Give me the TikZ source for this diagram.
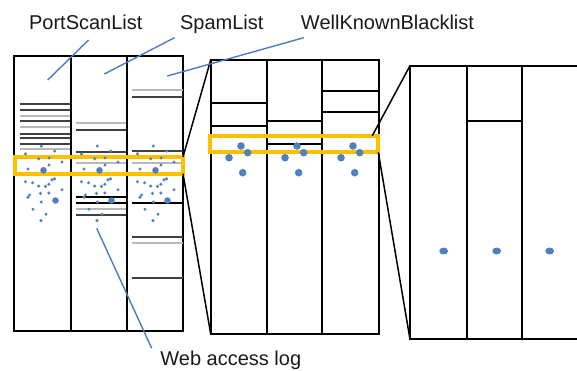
\documentclass[tikz,border=0pt]{standalone}
\usepackage{fontspec}
\setmainfont{Liberation Sans}
\usepackage{tikz}
\usetikzlibrary{positioning}
\definecolor{windowc}{RGB}{255,192,0}
\definecolor{leaderc}{RGB}{74,126,193}
\definecolor{dotc}{RGB}{79,129,189}
\definecolor{darkln}{RGB}{64,64,64}
\definecolor{grayln}{RGB}{185,185,185}
\tikzset{
  panel/.style   = {draw=black, line width=1.9pt, outer sep=0pt, inner sep=0pt, anchor=north west},
  divider/.style = {draw=black, line width=1.9pt},
  listln/.style  = {line width=2pt},
  window/.style  = {draw=windowc, line width=3.8pt, outer sep=0pt, inner sep=0pt, anchor=north west},
  zoomln/.style  = {draw=black, line width=1.5pt},
  leader/.style  = {draw=leaderc, line width=1.4pt},
  lbl/.style     = {font=\fontsize{20}{22}\selectfont, text=black!90, inner sep=0pt, anchor=base},
}

\begin{document}
\begin{tikzpicture}[x=1pt, y=-1pt]
\useasboundingbox (0,0) rectangle (577,370);

% three panels: whole lists, first zoom, second zoom
\node[panel, minimum width=169pt, minimum height=275pt] (fullP) at (14,56) {};
\node[panel, minimum width=168pt, minimum height=274pt] (midP) at (210.7,60) {};
\node[panel, minimum width=170pt, minimum height=273.6pt] (nearP) at (410,65.7) {};

\foreach \y/\c in {104/darkln,110/darkln,115.5/grayln,120.7/darkln,126.7/grayln,
                   133.5/darkln,138.3/darkln,144/darkln,149/grayln}
  \draw[listln, draw=\c] (19.5,\y) -- (71,\y);
\foreach \y/\c in {123.3/grayln,130/darkln,151.7/darkln,157.5/darkln,162.7/grayln,
                   197.3/black,202.5/black,209/grayln,214.7/darkln}
  \draw[listln, draw=\c] (75.5,\y) -- (127,\y);
\foreach \y/\c in {89.7/grayln,96.7/darkln,151.3/darkln,157.5/grayln,162.7/grayln,
                   203.3/black,237.3/darkln,243.3/grayln,277.7/darkln}
  \draw[listln, draw=\c] (131.7,\y) -- (183,\y);
\draw[divider] (71,56) -- (71,331) (127,56) -- (127,331);

\draw[divider] (210.7,103.3) -- (266.7,103.3) (210.7,126) -- (266.7,126);
\draw[divider] (266.7,121) -- (322.3,121) (266.7,143.7) -- (322.3,143.7);
\draw[divider] (322.3,90.7) -- (378.7,90.7) (322.3,112.3) -- (378.7,112.3);
\draw[divider] (266.7,60) -- (266.7,334) (322.3,60) -- (322.3,334);

\draw[divider] (466.7,121.3) -- (522.3,121.3);
\draw[divider] (466.7,65.7) -- (466.7,339.3) (522.3,65.7) -- (522.3,339.3);

\node[window, minimum width=167.7pt, minimum height=16.7pt] (winL) at (15.3,157) {};
\node[window, minimum width=168.3pt, minimum height=16.6pt] (winM) at (210,135.7) {};

\foreach \dx in {0,56,112} {
  \foreach \px/\py in {41.3/146,54.7/151,25.5/153.8,38.7/158.8,49/158,62/162,28/169,49/165,
                       25.5/181.7,32.5/182.7,38.7/186,45.5/186.3,48.8/184.3,52/179.8,54.5/178.8,
                       62/189.7,40.5/193.3,48.8/193,29.5/195,27.9/197.2,41.3/202,33/209.2,
                       46/214.2,41/220.6}
    \fill[dotc] (\px+\dx,\py) circle (1.7pt);
  \fill[dotc] (43.5+\dx,170.3) circle (3.3pt) (55.5+\dx,200.5) circle (3.3pt);
}
\foreach \dx in {0,56,112}
  \fill[dotc] (241+\dx,146) circle (3.8pt) (247.7+\dx,152.7) circle (3.8pt)
              (229+\dx,157.7) circle (3.8pt) (242.7+\dx,172.7) circle (3.8pt);
\foreach \px in {443.7,496.7,549.7}
  \fill[dotc] (\px,251) circle[x radius=4.4pt, y radius=3.5pt];

\draw[zoomln] (winL.north east) -- (midP.north west);
\draw[zoomln] (winL.south east) -- (midP.south west);
\draw[zoomln] ([xshift=-6pt]winM.north east) -- (nearP.north west);
\draw[zoomln] (winM.south east) -- (nearP.south west);

\node[lbl] (portscan) at (85.8,29.3) {PortScanList};
\node[lbl] (spam) at (221.8,29.3) {SpamList};
\node[lbl] (wellknown) at (387.5,29.3) {WellKnownBlacklist};
\node[lbl] (weblog) at (230.8,365) {Web access log};

\coordinate (portscanTip) at (88.6,40);
\coordinate (portscanEnd) at (47.7,80);
\coordinate (spamTip) at (174.5,37.7);
\coordinate (spamEnd) at (104.3,74);
\coordinate (wellknownTip) at (303.7,37.7);
\coordinate (wellknownEnd) at (167.3,76);
\coordinate (weblogTip) at (151.7,348.3);
\coordinate (weblogEnd) at (96.7,228.3);
\draw[leader] (portscanTip) -- (portscanEnd);
\draw[leader] (spamTip) -- (spamEnd);
\draw[leader] (wellknownTip) -- (wellknownEnd);
\draw[leader] (weblogTip) -- (weblogEnd);

\end{tikzpicture}
\end{document}
